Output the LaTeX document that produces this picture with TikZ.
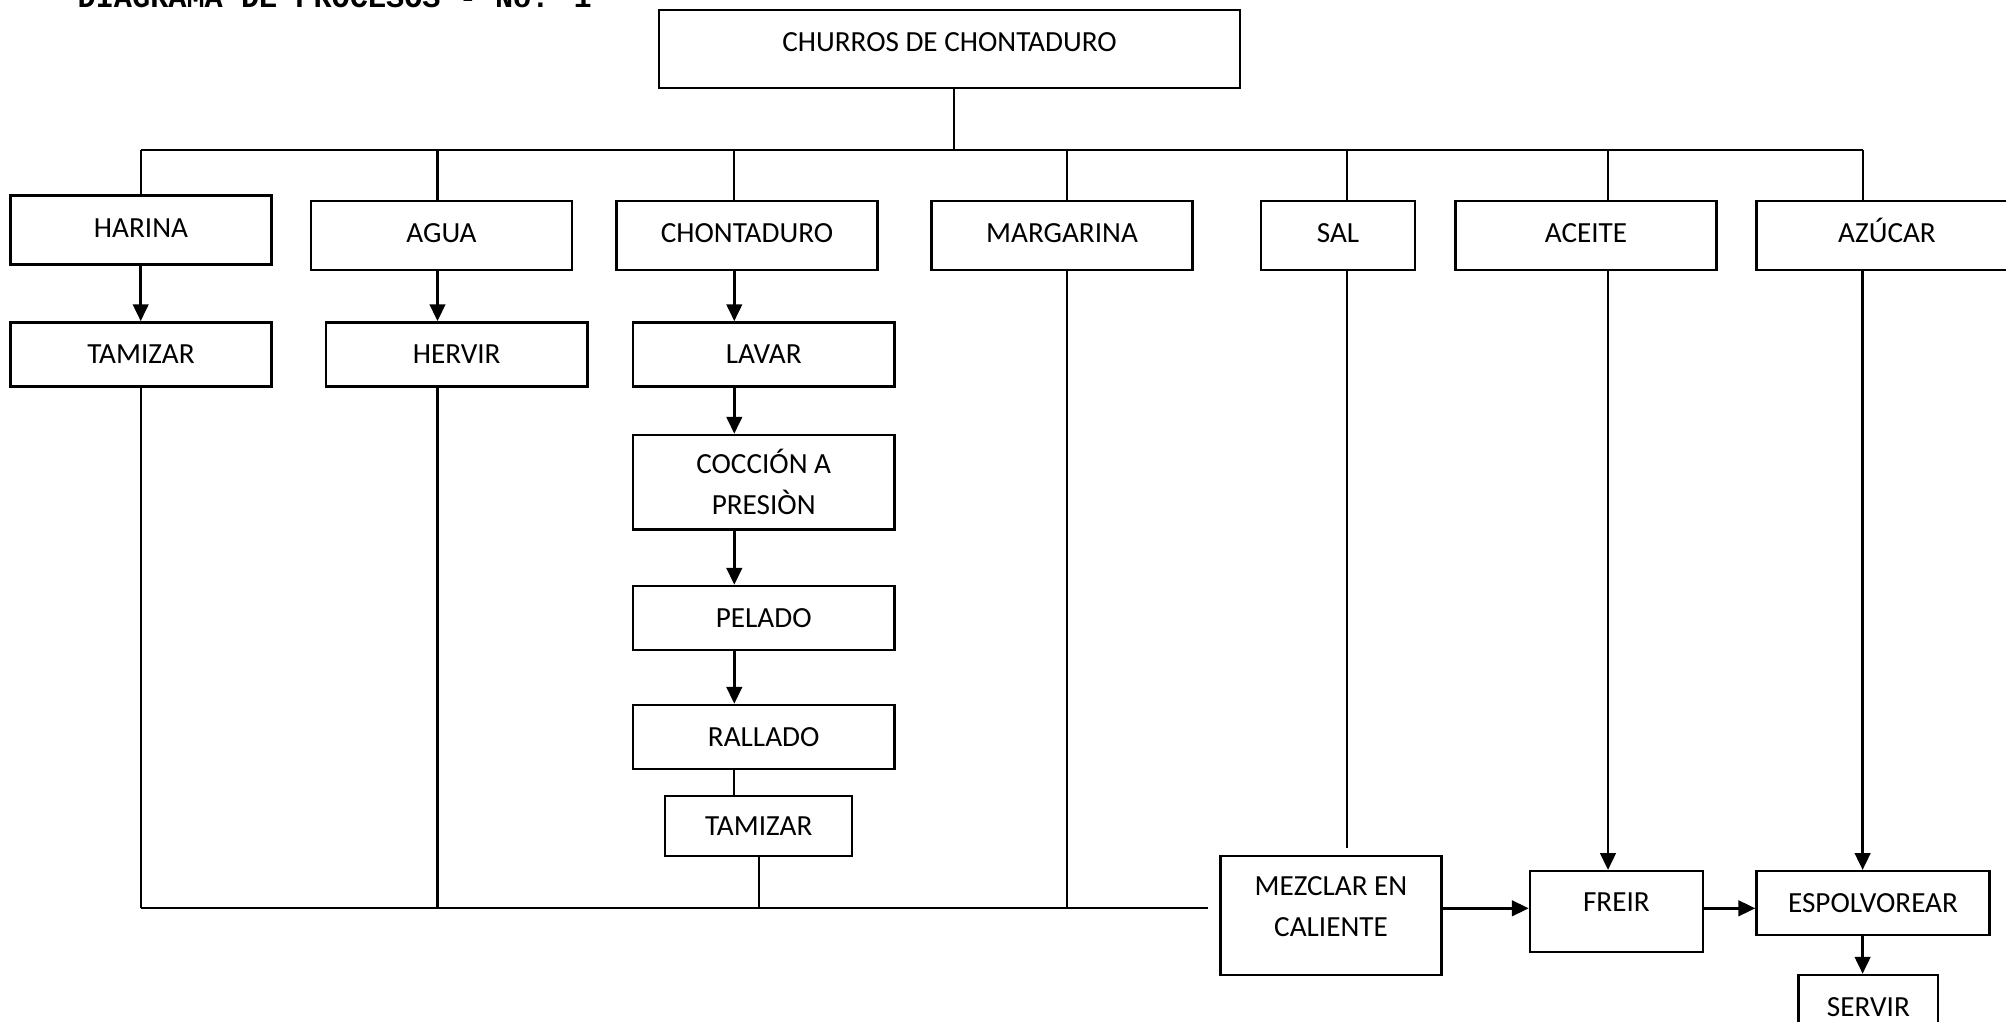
\documentclass[tikz,border=0pt]{standalone}
\usepackage{fontspec}
\setmainfont{Carlito}
\newfontfamily\titlefont{Liberation Mono}
\usetikzlibrary{arrows.meta}

\begin{document}
\begin{tikzpicture}[x=0.01cm,y=-0.01cm,>={Triangle[width=4.4pt,length=4.8pt]},
  font=\fontsize{8.3}{11.6}\selectfont,
  box/.style={draw,line width=0.7pt,inner sep=0pt,minimum width=2.61cm,minimum height=0.64cm},
  lift/.style={text height=0.65em,text depth=#1},
  link/.style={line width=0.6pt},
  flow/.style={line width=0.8pt,->}]
\useasboundingbox (0,0) rectangle (2006,1021);
\node[anchor=base west,inner sep=0pt,font=\titlefont\fontsize{8.6}{10}\selectfont\bfseries] (title) at (77,8) {DIAGRAMA DE PROCESOS - No. 1};
\node[box,lift=0.18cm,minimum width=5.81cm,minimum height=0.78cm] (churros) at (949.5,49) {CHURROS DE CHONTADURO};
\node[box,lift=0.08cm,minimum height=0.69cm] (harina) at (141,230) {HARINA};
\node[box,lift=0.08cm,minimum height=0.69cm] (agua) at (441.5,235.5) {AGUA};
\node[box,lift=0.08cm,minimum height=0.69cm] (chonta) at (747,235.5) {CHONTADURO};
\node[box,lift=0.08cm,minimum height=0.69cm] (margarina) at (1062,235.5) {MARGARINA};
\node[box,lift=0.08cm,minimum height=0.69cm,minimum width=1.535cm] (sal) at (1338,235.5) {SAL};
\node[box,lift=0.08cm,minimum height=0.69cm] (aceite) at (1586,235.5) {ACEITE};
\node[box,lift=0.08cm,minimum height=0.69cm] (azucar) at (1887,235.5) {AZÚCAR};
\node[box] (tam1) at (141,354.4) {TAMIZAR};
\node[box] (hervir) at (456.7,354.4) {HERVIR};
\node[box] (lavar) at (763.7,354.4) {LAVAR};
\node[box,align=center,minimum height=0.947cm] (coccion) at (763.7,482.3) {COCCIÓN A\\PRESIÒN};
\node[box] (pelado) at (763.7,618) {PELADO};
\node[box] (rallado) at (763.7,737) {RALLADO};
\node[box,minimum width=1.87cm,minimum height=0.6cm] (tam2) at (758.7,825.8) {TAMIZAR};
\node[box,align=center,text depth=0.18cm,minimum width=2.21cm,minimum height=1.19cm] (mezclar) at (1331,915.4) {MEZCLAR EN\\CALIENTE};
\node[box,lift=0.22cm,minimum width=1.727cm,minimum height=0.806cm] (freir) at (1616.4,911.5) {FREIR};
\node[box,minimum width=2.328cm] (espol) at (1873,903.2) {ESPOLVOREAR};
\node[box,minimum width=1.394cm] (servir) at (1868.4,1007) {SERVIR};

\coordinate (top) at (954,149.7);
\coordinate (c1) at (140.7,149.7);
\coordinate (c2) at (437.5,149.7);
\coordinate (c3) at (734.3,149.7);
\coordinate (c4) at (1067,149.7);
\coordinate (c5) at (1347,149.7);
\coordinate (c6) at (1608,149.7);
\coordinate (c7) at (1862.6,149.7);
\coordinate (b1) at (140.7,908.3);
\coordinate (b2) at (1207.7,908.3);
\coordinate (s1) at (1347,848.2);

\draw[link] (top |- churros.south) -- (top);
\draw[link] (c1) -- (c7);
\foreach \c/\b in {c1/harina,c2/agua,c3/chonta,c4/margarina,c5/sal,c6/aceite,c7/azucar}
  \draw[link] (\c) -- (\c |- \b.north);

\draw[flow] (c1 |- harina.south) -- (c1 |- tam1.north);
\draw[flow] (c2 |- agua.south) -- (c2 |- hervir.north);
\draw[flow] (c3 |- chonta.south) -- (c3 |- lavar.north);
\draw[flow] (c3 |- lavar.south) -- (c3 |- coccion.north);
\draw[flow] (c3 |- coccion.south) -- (c3 |- pelado.north);
\draw[flow] (c3 |- pelado.south) -- (c3 |- rallado.north);
\draw[link] (c3 |- rallado.south) -- (c3 |- tam2.north);

\draw[link] (c1 |- tam1.south) -- (b1);
\draw[link] (c2 |- hervir.south) -- (c2 |- b1);
\draw[link] (c4 |- margarina.south) -- (c4 |- b1);
\draw[link] (tam2.south) -- (tam2.south |- b1);
\draw[link] (b1) -- (b2);
\draw[link] (c5 |- sal.south) -- (s1);

\draw[flow] (b2 -| mezclar.east) -- (b2 -| freir.west);
\draw[flow] (b2 -| freir.east) -- (b2 -| espol.west);
\draw[flow] (c6 |- aceite.south) -- (c6 |- freir.north);
\draw[flow] (c7 |- azucar.south) -- (c7 |- espol.north);
\draw[flow] (c7 |- espol.south) -- (c7 |- servir.north);
\end{tikzpicture}
\end{document}
